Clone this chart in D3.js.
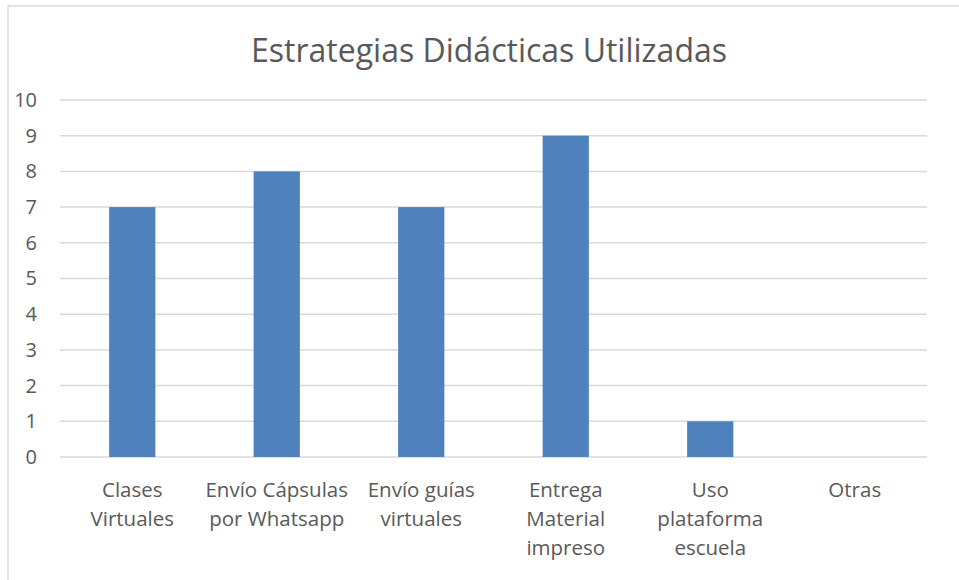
<!DOCTYPE html>
<html>
<head>
<meta charset="utf-8">
<script src="https://cdn.jsdelivr.net/npm/d3@7"></script>
<style>
  body { margin: 0; background: #fff; }
  text { font-family: "Open Sans", "Noto Sans", sans-serif; fill: #595959; }
</style>
</head>
<body>
<div id="chart"></div>
<script>
// categories and values
const categories = [
  ['Clases', 'Virtuales'],
  ['Envío Cápsulas', 'por Whatsapp'],
  ['Envío guías', 'virtuales'],
  ['Entrega', 'Material', 'impreso'],
  ['Uso', 'plataforma', 'escuela'],
  ['Otras']
];
const values = [7, 8, 7, 9, 1, 0];
const yTicks = [0, 1, 2, 3, 4, 5, 6, 7, 8, 9, 10];
const chartTitle = 'Estrategias Didácticas Utilizadas';

const width = 959, height = 580;
const margin = { top: 100, right: 32, bottom: 123, left: 60 };
const innerW = width - margin.left - margin.right;
const innerH = height - margin.top - margin.bottom;

const svg = d3.select('#chart').append('svg')
    .attr('width', width)
    .attr('height', height);

// outer chart frame (cropped on right/bottom in the original)
svg.append('path')
    .attr('d', 'M8,' + height + ' L8,6 L' + width + ',6')
    .attr('fill', 'none')
    .attr('stroke', '#d9d9d9')
    .attr('stroke-width', 1.5);

svg.append('text')
    .attr('x', 489)
    .attr('y', 62)
    .attr('text-anchor', 'middle')
    .style('font-size', '32px')
    .text(chartTitle);

const g = svg.append('g')
    .attr('transform', 'translate(' + margin.left + ',' + margin.top + ')');

const scaleX = d3.scaleBand().domain(d3.range(categories.length)).range([0, innerW]).padding(0);
const scaleY = d3.scaleLinear().domain([0, 10]).range([innerH, 0]);

// gridlines
g.selectAll('.grid')
    .data(yTicks)
    .enter().append('line')
    .attr('x1', 0)
    .attr('x2', innerW)
    .attr('y1', d => scaleY(d))
    .attr('y2', d => scaleY(d))
    .attr('stroke', '#d9d9d9')
    .attr('stroke-width', 1.5);

// y axis labels
const yAxis = d3.axisLeft(scaleY).tickValues(yTicks).tickSize(0).tickPadding(23);
g.append('g').call(yAxis)
    .call(a => a.select('.domain').remove())
    .selectAll('text')
    .style('font-size', '20px')
    .attr('fill', '#595959');

// bars
const barW = scaleX.bandwidth() * 0.32;
g.selectAll('.bar')
    .data(values)
    .enter().append('rect')
    .attr('x', (d, i) => scaleX(i) + (scaleX.bandwidth() - barW) / 2)
    .attr('y', d => scaleY(d))
    .attr('width', barW)
    .attr('height', d => innerH - scaleY(d))
    .attr('fill', '#4f81bd');

// category labels
const labels = g.selectAll('.cat')
    .data(categories)
    .enter().append('text')
    .attr('text-anchor', 'middle')
    .style('font-size', '20.5px')
    .attr('transform', (d, i) => 'translate(' + (scaleX(i) + scaleX.bandwidth() / 2) + ',' + (innerH + 40) + ')');
labels.selectAll('tspan')
    .data(d => d)
    .enter().append('tspan')
    .attr('x', 0)
    .attr('y', (d, i) => i * 29)
    .text(d => d);
</script>
</body>
</html>
